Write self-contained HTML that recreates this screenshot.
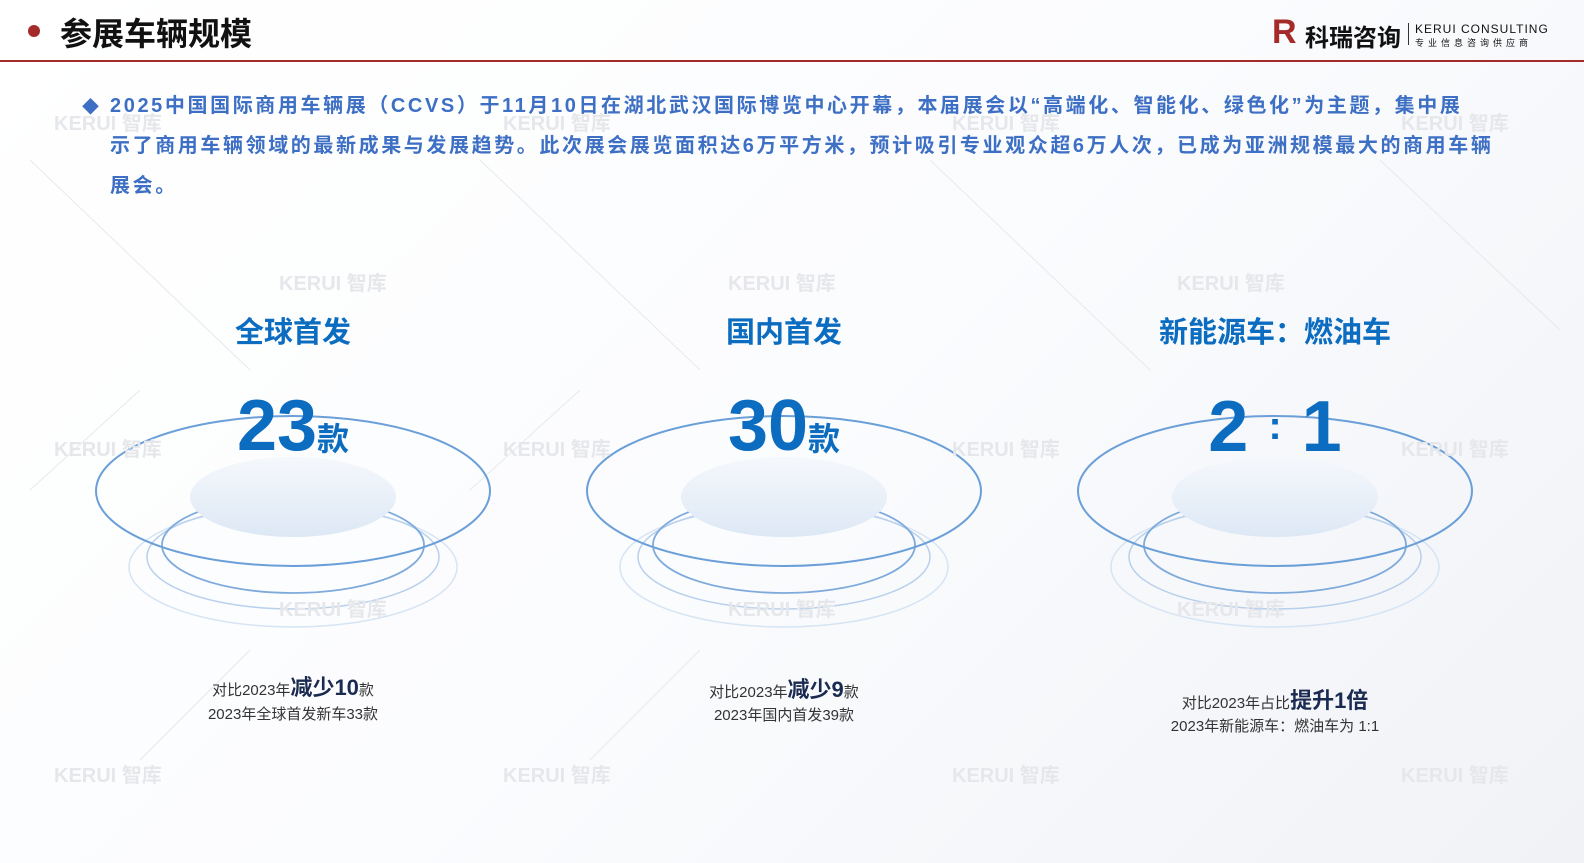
<!DOCTYPE html>
<html><head><meta charset="utf-8"><style>
body{margin:0;width:1584px;height:863px;overflow:hidden;background:linear-gradient(135deg,#fff 0%,#fbfcfe 50%,#f0f2f6 100%);font-family:"Liberation Sans","Noto Sans CJK SC",sans-serif;position:relative}
.a{position:absolute;white-space:nowrap}
.wm{position:absolute;font-weight:bold;font-size:20px;color:#e6e7ea}
.t{position:absolute;width:400px;text-align:center;font-weight:bold;color:#0b6cc0}
.c{position:absolute;width:400px;text-align:center;color:#333;font-size:15px}
.c b{color:#1a2a50;font-size:22px}
</style></head><body>
<svg class="a" style="left:0;top:0" width="1584" height="863">
<g stroke="#e8e9ec" stroke-width="1">
<line x1="30" y1="160" x2="250" y2="370"/><line x1="480" y1="160" x2="700" y2="370"/><line x1="930" y1="160" x2="1150" y2="370"/><line x1="1380" y1="160" x2="1560" y2="330"/>
<line x1="30" y1="490" x2="140" y2="390"/><line x1="470" y1="490" x2="580" y2="390"/><line x1="250" y1="650" x2="140" y2="760"/><line x1="700" y1="650" x2="590" y2="760"/>
</g>
<defs><linearGradient id="g" x1="0" y1="0" x2="0" y2="1"><stop offset="0" stop-color="#f5f8fc"/><stop offset="1" stop-color="#dde8f5"/></linearGradient></defs>
<g id="p" fill="none">
<ellipse cx="293" cy="567" rx="164" ry="60" stroke="#d6e4f4" stroke-width="1.5"/>
<ellipse cx="293" cy="557" rx="146" ry="52" stroke="#b8d0ec" stroke-width="1.5"/>
<ellipse cx="293" cy="545" rx="131" ry="48" stroke="#7eaadc" stroke-width="1.8"/>
<ellipse cx="293" cy="497" rx="103" ry="40" fill="url(#g)"/>
<ellipse cx="293" cy="491" rx="197" ry="75" stroke="#6b9fd8" stroke-width="2"/>
</g>
<use href="#p" x="491"/><use href="#p" x="982"/>
<rect x="0" y="60" width="1584" height="2" fill="#a52a2a"/>
<circle cx="34" cy="31" r="6" fill="#a52a2a"/>
</svg>
<div class="wm" style="left:54px;top:107px">KERUI 智库</div><div class="wm" style="left:503px;top:107px">KERUI 智库</div><div class="wm" style="left:952px;top:107px">KERUI 智库</div><div class="wm" style="left:1401px;top:107px">KERUI 智库</div>
<div class="wm" style="left:279px;top:267px">KERUI 智库</div><div class="wm" style="left:728px;top:267px">KERUI 智库</div><div class="wm" style="left:1177px;top:267px">KERUI 智库</div>
<div class="wm" style="left:54px;top:433px">KERUI 智库</div><div class="wm" style="left:503px;top:433px">KERUI 智库</div><div class="wm" style="left:952px;top:433px">KERUI 智库</div><div class="wm" style="left:1401px;top:433px">KERUI 智库</div>
<div class="wm" style="left:279px;top:593px">KERUI 智库</div><div class="wm" style="left:728px;top:593px">KERUI 智库</div><div class="wm" style="left:1177px;top:593px">KERUI 智库</div>
<div class="wm" style="left:54px;top:759px">KERUI 智库</div><div class="wm" style="left:503px;top:759px">KERUI 智库</div><div class="wm" style="left:952px;top:759px">KERUI 智库</div><div class="wm" style="left:1401px;top:759px">KERUI 智库</div>
<div class="a" style="left:60px;top:9px;font-size:32px;font-weight:bold;color:#111">参展车辆规模</div>
<div class="a" style="left:1272px;top:16px;font-size:34px;font-weight:900;color:#a52a2a;line-height:32px">R</div>
<div class="a" style="left:1305px;top:18px;font-size:24px;font-weight:bold;color:#111">科瑞咨询</div>
<div class="a" style="left:1408px;top:23px;width:1px;height:22px;background:#333"></div>
<div class="a" style="left:1415px;top:22px;font-size:12px;color:#111;letter-spacing:1px">KERUI CONSULTING</div>
<div class="a" style="left:1415px;top:36px;font-size:9px;color:#111;letter-spacing:4px">专业信息咨询供应商</div>
<div class="a" style="left:82px;top:93px;font-size:17px;color:#3d6fc4">◆</div>
<div class="a" style="left:110px;top:86px;font-size:20px;font-weight:bold;color:#3d6fc4;line-height:40px;letter-spacing:0.5px;transform-origin:0 0;transform:scaleX(1.0)"><span style="letter-spacing:2.6px">2025中国国际商用车辆展（CCVS）于11月10日在湖北武汉国际博览中心开幕，本届展会以“高端化、智能化、绿色化”为主题，集中展<br>示了商用车辆领域的最新成果与发展趋势。此次展会展览面积达6万平方米，预计吸引专业观众超6万人次，已成为亚洲规模最大的商用车辆<br>展会。</span></div>
<div class="t" style="left:93px;top:309px;font-size:29px">全球首发</div>
<div class="t" style="left:584px;top:309px;font-size:29px">国内首发</div>
<div class="t" style="left:1075px;top:309px;font-size:29px">新能源车：燃油车</div>
<div class="t" style="left:93px;top:383px;font-size:72px;line-height:86px">23<span style="font-size:32px">款</span></div>
<div class="t" style="left:584px;top:383px;font-size:72px;line-height:86px">30<span style="font-size:32px">款</span></div>
<div class="t" style="left:1075px;top:383px;font-size:72px;line-height:86px">2 <span style="font-size:40px;vertical-align:12px">:</span> 1</div>
<div class="c" style="left:93px;top:670px">对比2023年<b>减少10</b>款</div>
<div class="c" style="left:93px;top:703px">2023年全球首发新车33款</div>
<div class="c" style="left:584px;top:672px">对比2023年<b>减少9</b>款</div>
<div class="c" style="left:584px;top:704px">2023年国内首发39款</div>
<div class="c" style="left:1075px;top:683px">对比2023年占比<b>提升1倍</b></div>
<div class="c" style="left:1075px;top:715px">2023年新能源车：燃油车为 1:1</div>
</body></html>
